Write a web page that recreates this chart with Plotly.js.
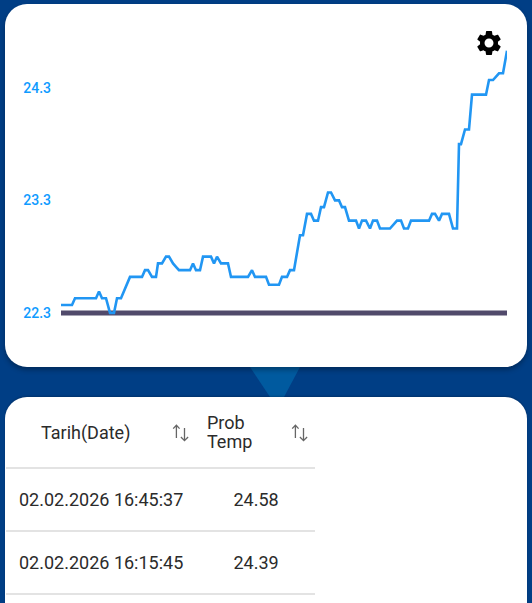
<!DOCTYPE html>
<html><head><meta charset="utf-8">
<script src="https://cdn.plot.ly/plotly-3.0.0.min.js"></script>
<style>
html,body{margin:0;padding:0;width:532px;height:603px;overflow:hidden;background:#003e85;font-family:Roboto,sans-serif}
.card{position:absolute;left:5px;width:522px;background:#fff;border-radius:22px}
#top{top:4px;height:363px;box-shadow:0 3px 5px rgba(0,0,0,.3)}
#bottom{top:397px;height:230px;box-shadow:0 -1px 2px rgba(0,0,0,.2)}
#tri{position:absolute;left:0;top:0}
#plot{position:absolute;left:0;top:0;width:532px;height:370px}
#gear{position:absolute;left:474px;top:27.5px;width:30px;height:30px}
.t{position:absolute;white-space:nowrap;color:#2b2b2b;font-size:18px;line-height:21px}
.rule{position:absolute;left:6px;width:309px;height:2px;background:#e3e3e3}
.sort{position:absolute;width:20px;height:20px}
</style></head>
<body>
<svg id="tri" width="532" height="603"><path d="M250 367H300L284 397H270Z" fill="#005a9f"/></svg>
<div class="card" id="top"></div>
<div class="card" id="bottom"></div>
<div id="plot"></div>
<svg id="gear" viewBox="0 0 24 24"><path d="M19.14 12.94c.04-.3.06-.61.06-.94 0-.32-.02-.64-.07-.94l2.03-1.58c.18-.14.23-.41.12-.61l-1.92-3.32c-.12-.22-.37-.29-.59-.22l-2.39.96c-.5-.38-1.03-.7-1.62-.94l-.36-2.54c-.04-.24-.24-.41-.48-.41h-3.84c-.24 0-.43.17-.47.41l-.36 2.54c-.59.24-1.13.57-1.62.94l-2.39-.96c-.22-.08-.47 0-.59.22L2.74 8.87c-.12.21-.08.47.12.61l2.03 1.58c-.05.3-.09.63-.09.94s.02.64.07.94l-2.03 1.58c-.18.14-.23.41-.12.61l1.92 3.32c.12.22.37.29.59.22l2.39-.96c.5.38 1.03.7 1.62.94l.36 2.54c.05.24.24.41.48.41h3.84c.24 0 .44-.17.47-.41l.36-2.54c.59-.24 1.13-.56 1.62-.94l2.39.96c.22.08.47 0 .59-.22l1.92-3.32c.12-.22.07-.47-.12-.61l-2.01-1.58zM12 15.6c-1.98 0-3.6-1.62-3.6-3.6s1.62-3.6 3.6-3.6 3.6 1.62 3.6 3.6-1.62 3.6-3.6 3.6z"/></svg>
<div id="table"></div>
<script>
var sampleTime = [0,11,14,35,38,41,45,49,53,56,60,69,81,84,87,91,95,97,101,105,108,112,115,118,129,132,135,139,142,150,153,156,160,167,170,187,191,194,205,208,218,221,226,229,233,239,242,246,250,253,257,260,263,267,270,274,278,281,284,288,295,298,301,305,309,312,316,319,329,336,340,343,347,350,368,371,374,378,381,388,392,396,398,400,404,408,411,425,428,432,438,442,446];
var probTemp = [22.37,22.37,22.43,22.43,22.49,22.43,22.43,22.30,22.30,22.43,22.43,22.62,22.62,22.68,22.68,22.62,22.62,22.74,22.74,22.80,22.80,22.74,22.71,22.68,22.68,22.74,22.68,22.68,22.80,22.80,22.74,22.80,22.74,22.74,22.62,22.62,22.68,22.62,22.62,22.55,22.55,22.62,22.62,22.68,22.68,22.99,22.99,23.18,23.18,23.12,23.12,23.24,23.24,23.37,23.37,23.30,23.30,23.24,23.24,23.12,23.12,23.05,23.12,23.12,23.05,23.12,23.12,23.05,23.05,23.12,23.12,23.05,23.05,23.12,23.12,23.18,23.18,23.12,23.18,23.18,23.05,23.05,23.80,23.80,23.93,23.93,24.24,24.24,24.37,24.37,24.43,24.43,24.63];
var baselineTime = [0,446];
var baselineTemp = [22.30,22.30];
var yTicks = [22.3,23.3,24.3];
var yTickLabels = ['22.3','23.3','24.3'];
var tableHeaders = ['Tarih(Date)','Prob','Temp'];
var tableDates = ['02.02.2026 16:45:37','02.02.2026 16:15:45'];
var tableTemps = ['24.58','24.39'];

Plotly.newPlot('plot',[
 {x:baselineTime,y:baselineTemp,mode:'lines',line:{color:'#514a6b',width:5},hoverinfo:'skip',showlegend:false},
 {x:sampleTime,y:probTemp,mode:'lines',line:{color:'#2196f3',width:2.6},showlegend:false}
],{
 width:532,height:370,paper_bgcolor:'rgba(0,0,0,0)',plot_bgcolor:'rgba(0,0,0,0)',
 margin:{l:61,r:25,t:20,b:30,pad:0},showlegend:false,
 xaxis:{range:[0,446],visible:false,fixedrange:true},
 yaxis:{range:[22.0592,24.9036],tickmode:'array',tickvals:yTicks,ticktext:yTickLabels,showgrid:false,zeroline:false,showline:false,ticks:'',ticklabelstandoff:9,fixedrange:true,
   tickfont:{family:'Roboto, sans-serif',size:14,color:'#0f9bff',weight:500}}
},{displayModeBar:false,staticPlot:true});

function addText(txt,l,top){var d=document.createElement('div');d.className='t';d.textContent=txt;d.style.left=l+'px';d.style.top=top+'px';document.getElementById('table').appendChild(d);return d;}
function addRule(top){var d=document.createElement('div');d.className='rule';d.style.top=top+'px';document.getElementById('table').appendChild(d);}
function addSort(l,top){var ns='http://www.w3.org/2000/svg',s=document.createElementNS(ns,'svg');s.setAttribute('class','sort');s.setAttribute('viewBox','0 0 20 20');s.style.left=l+'px';s.style.top=top+'px';
 s.innerHTML='<path d="M5.4 15V2.5M2.2 5.6L5.4 2.2l3.2 3.4M13.5 5V17.6M9.9 14l3.6 3.6 3.6-3.6" fill="none" stroke="#666" stroke-width="1.3"/>';document.getElementById('table').appendChild(s);}
addText(tableHeaders[0],41,422);
addText(tableHeaders[1],207,411.5);
addText(tableHeaders[2],207,431);
addSort(171,423);addSort(289.5,423);
addRule(467);addRule(530);addRule(593);
for(var i=0;i<tableDates.length;i++){
 addText(tableDates[i],19,489+i*63);
 addText(tableTemps[i],233.5,489+i*63);
}
</script>
</body></html>
